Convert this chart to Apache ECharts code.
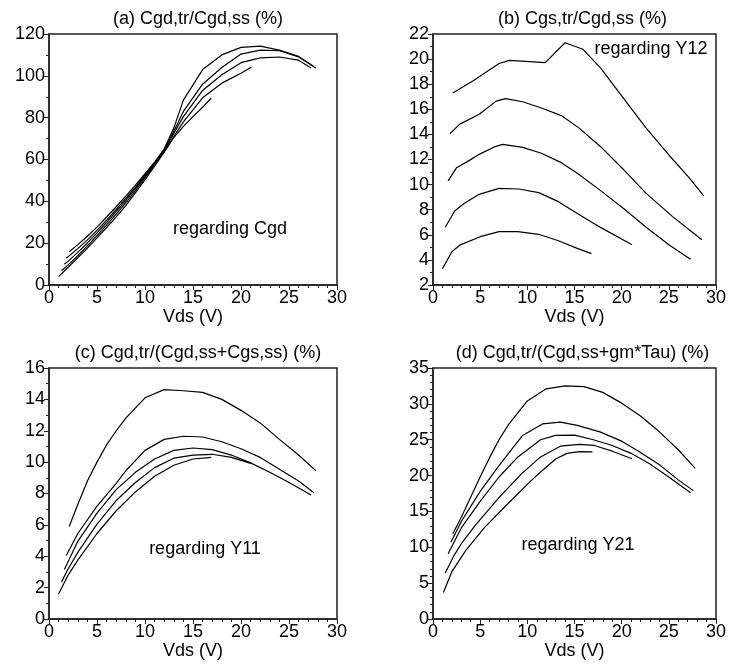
<!DOCTYPE html>
<html>
<head>
<meta charset="utf-8">
<script src="https://cdn.jsdelivr.net/npm/echarts@6/dist/echarts.min.js"></script>
<style>
  html, body { margin: 0; padding: 0; background: #fff; }
  #main { width: 729px; height: 664px; }
</style>
</head>
<body>
<div id="main"></div>
<script>
// curves, [Vds, value], shortest sweep first

// (a) Cgd,tr/Cgd,ss
var panelA = [
  [[1.0,4.0],[2,8.5],[3,13],[4,17.6],[5,22.5],[6,27.5],[7,32.6],[8,38],[9,44],[10,50.3],[11,56.8],[12,63.5],[13,70.5],[14,75.8],[15,80.5],[16,85],[16.9,89.3]],
  [[1.3,6.8],[2,9.6],[3,14],[4,18.7],[5,23.6],[6,28.7],[7,33.9],[8,39.3],[9,45],[10,51.2],[11,57.5],[12,64],[13,71],[14,78],[16,89.5],[18,96.5],[20,101.2],[21.1,104.2]],
  [[1.6,9.9],[2,11.4],[3,15.6],[4,20.1],[5,24.9],[6,29.9],[7,35.1],[8,40.4],[9,46.1],[10,52],[11,58],[12,64.5],[13,72.5],[14,80.5],[16,93],[18,100.5],[20,106.3],[22,108.6],[24,109],[26,107.5],[27.3,103.8]],
  [[1.8,12.8],[3,17.4],[4,21.6],[5,26.1],[6,31],[7,36.1],[8,41.4],[9,46.8],[10,52.6],[11,58.4],[12,64.8],[13,73.5],[14,83],[16,96],[18,104],[20,110.4],[22,112.3],[24,112],[26,109],[27.6,104.5]],
  [[2.1,15.9],[3,19.3],[4,23.3],[5,27.7],[6,32.5],[7,37.4],[8,42.5],[9,47.8],[10,53.2],[11,58.8],[12,65],[13,75],[14,88.4],[16,103],[18,110],[20,113.6],[22,114.2],[24,112.3],[26,109.3],[27.8,103.6]]
];

// (b) Cgs,tr/Cgd,ss
var panelB = [
  [[1.0,3.3],[2,4.65],[2.9,5.2],[5,5.85],[7,6.25],[9,6.25],[11.2,6.04],[13.3,5.53],[15.3,4.92],[16.8,4.5]],
  [[1.3,6.6],[2.3,7.9],[3.3,8.5],[4.8,9.2],[7,9.7],[9.1,9.65],[11.2,9.36],[13.3,8.64],[15.3,7.7],[17.8,6.57],[21.1,5.2]],
  [[1.6,10.3],[2.5,11.35],[3.9,11.95],[5,12.45],[6.5,13.0],[7.4,13.2],[9.5,12.97],[11.5,12.5],[13.6,11.75],[15.3,10.9],[17.8,9.5],[20.2,8.1],[22.6,6.6],[25,5.2],[27.3,4.05]],
  [[1.8,14.05],[2.8,14.8],[4.9,15.6],[6.7,16.65],[7.7,16.85],[9.5,16.6],[11.5,16.1],[13.6,15.5],[15.5,14.5],[17.8,13],[20.2,11.2],[22.6,9.3],[25.4,7.45],[28.5,5.6]],
  [[2.1,17.3],[4.3,18.3],[7,19.65],[8.1,19.9],[11.9,19.72],[14,21.3],[15.9,20.78],[17.8,19.26],[20.2,16.87],[22.6,14.5],[25,12.36],[27.1,10.6],[28.7,9.1]]
];

// (c) Cgd,tr/(Cgd,ss+Cgs,ss)
var panelC = [
  [[1.0,1.6],[2,2.8],[3,3.75],[5,5.45],[7,6.9],[9,8.1],[11,9.1],[13,9.8],[15,10.2],[16.9,10.3]],
  [[1.3,2.35],[2,3.2],[3,4.25],[5,6.05],[7,7.55],[9,8.7],[11,9.65],[13,10.25],[15,10.45],[17,10.5],[19,10.3],[21.1,9.9]],
  [[1.6,3.15],[3,4.95],[5,6.75],[7,8.25],[9,9.35],[11,10.2],[13,10.75],[15,10.9],[17,10.8],[19,10.45],[21,9.95],[23,9.35],[25,8.7],[27.3,7.9]],
  [[1.8,4.05],[3,5.45],[5,7.2],[7,8.65],[8,9.45],[10,10.75],[12,11.45],[14,11.65],[16,11.6],[18,11.3],[20,10.85],[22,10.3],[24,9.55],[26,8.8],[27.6,8.05]],
  [[2.1,5.9],[3,7.3],[4,8.8],[5,10.0],[6,11.1],[7,12.0],[8,12.8],[10,14.1],[12,14.62],[14,14.55],[16,14.45],[18,14.0],[20,13.3],[22,12.5],[24,11.45],[26,10.45],[27.8,9.45]]
];

// (d) Cgd,tr/(Cgd,ss+gm*Tau)
var panelD = [
  [[1.1,3.7],[2,6.6],[3.5,9.6],[5.5,12.8],[7.8,15.9],[10.4,19.3],[11.5,20.6],[13,22.3],[14.2,23.1],[15.5,23.35],[16.9,23.3]],
  [[1.3,6.4],[2.2,8.8],[3,10.5],[4.5,13.1],[6.9,16.8],[9.35,20.2],[11.4,22.6],[13.5,24.1],[15.5,24.35],[17.1,24.2],[19,23.4],[21.1,22.35]],
  [[1.6,9.1],[3,12.7],[5,16.4],[7,19.8],[9,22.6],[11.4,25.0],[13,25.6],[15,25.65],[17,25.0],[19,24.2],[21,23.1],[23,21.6],[25,19.8],[27.3,17.6]],
  [[1.9,10.7],[3,13.6],[5,17.8],[7,21.4],[9.5,25.6],[11.6,27.2],[13.5,27.45],[15.3,27.0],[17.7,26.1],[20,24.8],[21.8,23.4],[24,21.5],[26,19.4],[27.6,17.9]],
  [[2.1,11.9],[3,14.2],[4,17.0],[5,19.8],[6,22.5],[7,25.0],[8,27.1],[10,30.4],[12,32.1],[14,32.5],[16,32.4],[18,31.6],[20,30.1],[22,28.3],[24,26.1],[26,23.6],[27.8,21.0]]
];

var titles = ['(a) Cgd,tr/Cgd,ss (%)', '(b) Cgs,tr/Cgd,ss (%)', '(c) Cgd,tr/(Cgd,ss+Cgs,ss) (%)', '(d) Cgd,tr/(Cgd,ss+gm*Tau) (%)'];
var notes = ['regarding Cgd', 'regarding Y12', 'regarding Y11', 'regarding Y21'];
var yMax = [120, 22, 16, 35];
var yMin = [0, 2, 0, 0];
var yStep = [20, 2, 2, 5];
var yMinor = [2, 2, 2, 5];

var FONT = '"Liberation Sans", Arial, sans-serif';
var FS = 18;
var panels = [panelA, panelB, panelC, panelD];
var grids = [
  {left: 49, top: 34, width: 288, height: 251},
  {left: 433, top: 34, width: 289, height: 251},
  {left: 49, top: 368, width: 288, height: 251},
  {left: 433, top: 368, width: 289, height: 251}
];
var notePos = [[230, 229], [651, 49], [205, 549], [578, 545]];

var xAxes = [], yAxes = [], series = [], titleList = [], texts = [];
for (var i = 0; i < 4; i++) {
  grids[i].show = true;
  grids[i].borderColor = '#222';
  grids[i].borderWidth = 1.5;
  xAxes.push({
    gridIndex: i, type: 'value', min: 0, max: 30, interval: 5,
    name: 'Vds (V)', nameLocation: 'middle', nameGap: 22,
    nameTextStyle: {fontSize: FS, color: '#000', fontFamily: FONT},
    axisLine: {lineStyle: {color: '#222', width: 1.5}},
    axisTick: {length: 5, lineStyle: {color: '#222'}},
    minorTick: {show: true, splitNumber: 5, length: 3, lineStyle: {color: '#222'}},
    splitLine: {show: false},
    axisLabel: {fontSize: FS, color: '#000', fontFamily: FONT, margin: 4}
  });
  yAxes.push({
    gridIndex: i, type: 'value', min: yMin[i], max: yMax[i], interval: yStep[i],
    axisLine: {lineStyle: {color: '#222', width: 1.5}},
    axisTick: {length: 5, lineStyle: {color: '#222'}},
    minorTick: {show: true, splitNumber: yMinor[i], length: 3, lineStyle: {color: '#222'}},
    splitLine: {show: false},
    axisLabel: {fontSize: FS, color: '#000', fontFamily: FONT, margin: 4}
  });
  for (var k = 0; k < panels[i].length; k++) {
    series.push({
      type: 'line', xAxisIndex: i, yAxisIndex: i,
      data: panels[i][k], showSymbol: false, symbol: 'none',
      lineStyle: {color: '#000', width: 1.2}
    });
  }
  titleList.push({
    text: titles[i], left: grids[i].left + grids[i].width / 2, top: grids[i].top - 29,
    textAlign: 'center',
    textStyle: {fontSize: FS, fontWeight: 'normal', color: '#000', fontFamily: FONT}
  });
  texts.push({
    type: 'text', x: notePos[i][0], y: notePos[i][1],
    style: {text: notes[i], font: FS + 'px ' + FONT, fill: '#000', textAlign: 'center', textVerticalAlign: 'middle'}
  });
}

var chart = echarts.init(document.getElementById('main'));
chart.setOption({
  animation: false,
  title: titleList,
  grid: grids,
  xAxis: xAxes,
  yAxis: yAxes,
  series: series,
  graphic: texts
});
</script>
</body>
</html>
